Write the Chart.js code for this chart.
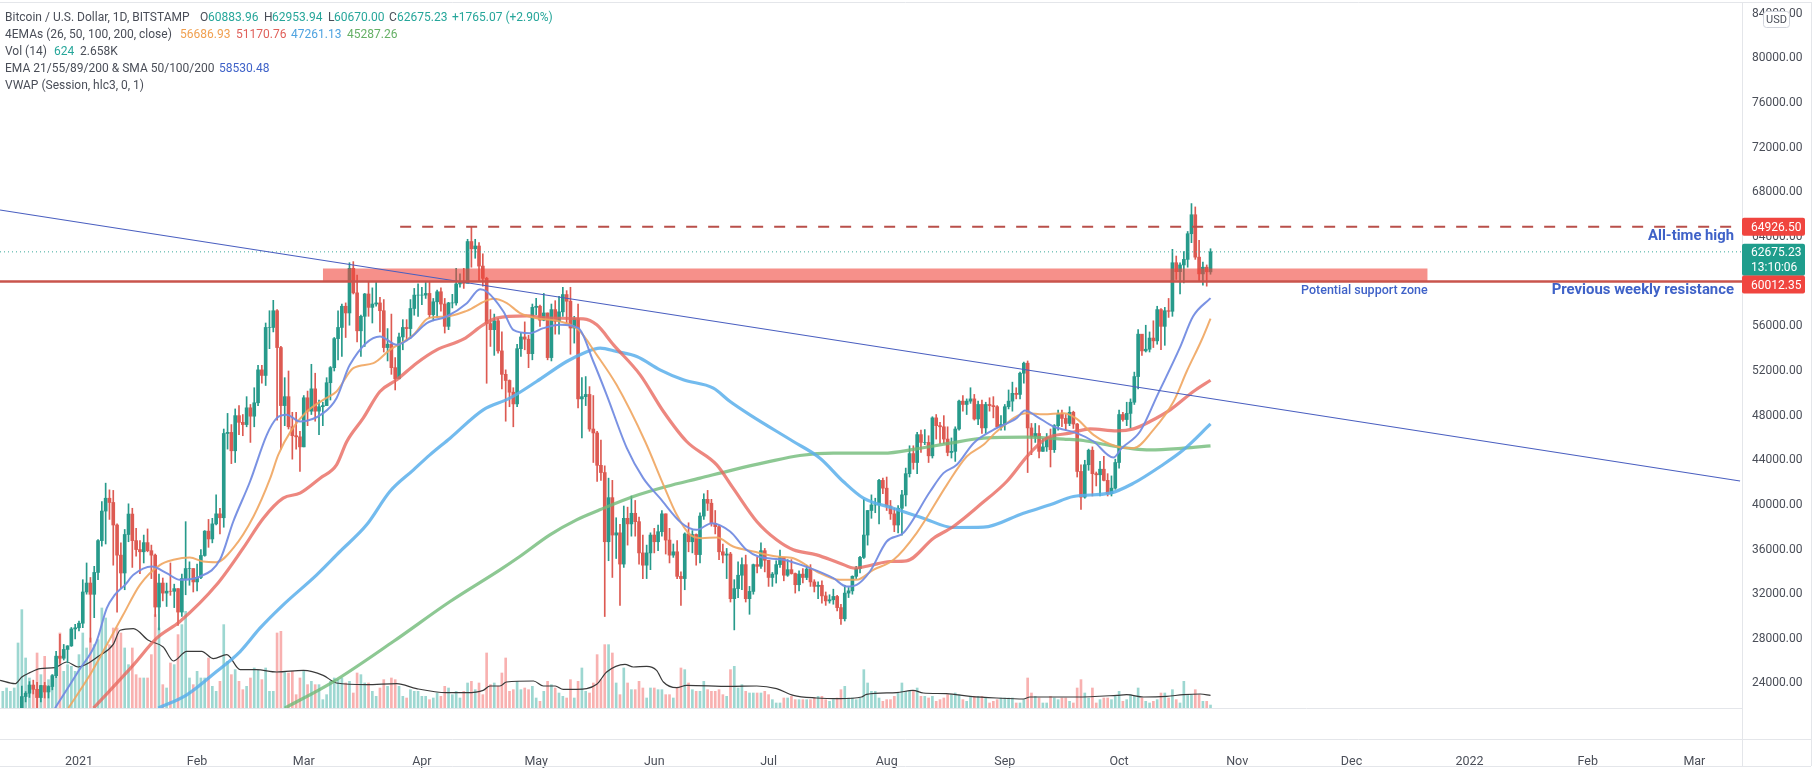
<!DOCTYPE html>
<html><head><meta charset="utf-8">
<style>html,body{margin:0;padding:0;background:#fff;overflow:hidden}canvas{display:block}</style>
<script src="https://cdn.jsdelivr.net/npm/chart.js@4"></script>
</head><body><canvas id="c" width="1816" height="771"></canvas>
<script>
// day index: 0 = 1 Jan 2021; first candle is 12 Dec 2020 (-20)
const firstDay = -20;
const firstOpen = 18700;
const closes = [
18800,19170,19270,19440,21380,22830,23130,23860,23480,22740,23820,23240,23730,24700,26450,26260,27050,27370,28890,28990,
29400,32200,33000,31990,33950,36800,39450,40600,40220,38200,35500,33900,37350,39180,36800,36000,35800,36620,35900,35500,30850,33000,32100,32270,32260,32500,30400,33400,34300,34300,33100,
33500,35470,37650,36950,38300,39200,38850,46400,46500,44850,48000,47400,47200,48700,47950,49150,52100,51600,55900,55900,57400,54100,48900,49700,47000,46200,46100,45200,
49600,48400,50400,48400,48800,48900,50950,52300,54900,55900,57800,57200,61200,59000,55600,56900,58900,57700,58000,58100,57400,54100,54400,52300,51300,55050,55900,55800,57600,58800,58800,
58800,58950,57050,58200,59100,58000,56000,58100,58100,59800,60000,59850,63600,62950,63200,61400,60300,56250,55700,56500,53800,51700,51150,50100,49050,54000,55050,54850,53550,57700,
57800,56550,57200,53200,57500,56450,57300,58850,58250,55850,56700,49500,49700,49900,46800,46450,43550,42900,36700,40650,37300,37500,34700,38800,38300,39250,38500,35700,34600,35700,37300,
36700,37600,39200,36850,35500,35800,33600,33400,37400,36700,37350,35550,39000,40500,40150,38350,38050,35800,35500,35600,31600,32500,33700,34650,31600,32250,34650,34500,35900,35040,
33500,33800,34650,35300,33700,34200,33850,32850,33800,33500,34250,33100,32700,32800,31850,31400,31500,31800,30800,29800,32100,32300,33600,34300,35300,37300,39500,40000,40000,42200,41500,
39900,39200,38200,39700,40900,42800,44600,43800,46300,45600,45600,44400,47800,47100,47000,45900,44700,44800,46800,49300,49000,49300,49500,47700,49000,46900,49000,48900,48800,47000,47200,
48800,49300,50000,49900,51800,52700,46900,46100,46400,44800,45200,46050,44950,47100,48150,47750,47300,48300,47250,43000,40700,43600,44900,42800,42700,43200,42200,41000,41500,43800,
48100,47650,48200,49200,51500,55300,53800,53950,54950,54700,57500,56000,57400,57350,61700,60900,61500,62000,64300,66000,62200,60700,61300,60884,62675.23];
const highs = [
18950,19400,19350,19550,21560,23770,23280,24170,24300,24100,23840,24100,23800,24790,26880,28400,27500,27390,29020,29300,
29600,33300,34800,33500,34500,36900,40300,41950,41350,41300,38300,36600,37800,40100,39700,37900,36800,37300,37850,36400,35600,33800,33450,33000,34800,32900,32500,33800,38500,34900,34300,
34700,36000,37700,38700,38800,40900,39700,46800,48200,47200,48600,48900,48100,49700,49000,50500,52500,52500,56300,57400,58330,57500,54200,51400,52000,48300,48300,46600,
49800,50200,52600,51800,49400,49200,51400,52400,55000,57400,58000,58100,61700,61800,60600,57000,58950,60000,59450,60000,58600,58400,55800,57100,53200,55400,56600,56600,58400,59400,59800,
59500,60000,60000,58500,59250,59450,58500,58150,58870,61200,60700,61200,63800,64895,63800,63500,62500,60400,57500,57100,56700,55500,52100,51200,50500,54400,55400,56400,55200,58000,
58500,57900,58950,57200,58000,58300,58700,59500,59200,59500,56900,58000,51400,51500,50600,49800,46600,45800,43500,42400,42200,38850,38250,39900,39800,40800,40400,38900,37300,36400,37500,
37900,38200,39500,39200,37900,36500,36800,34000,37500,38400,37700,37400,39300,41000,41300,40500,39500,38200,36500,36100,35750,33300,34900,35250,35500,32700,34700,35300,36600,36100,
35000,33950,35000,35950,35300,35100,35100,33900,34100,34300,34600,34650,33300,33100,33200,32200,31950,32450,31900,31100,32800,32600,33650,34500,35400,40500,39500,40900,40600,42300,42400,
42500,40400,39700,39950,41300,43300,45300,45300,46500,46700,46750,46200,47900,48100,47400,48000,47000,46000,47000,49400,49800,49500,50500,49900,49300,49400,49200,49600,49700,48900,48000,
49000,50300,51000,50500,51900,52800,52900,47300,47300,47100,45950,46400,46800,47200,48500,48500,48100,48800,48400,47300,43600,44000,45000,45200,42950,43900,44350,42800,42600,44100,
48500,48300,49200,49500,51900,55700,55200,56100,55500,56500,57800,57600,57700,58500,62900,62300,61700,62700,64500,67000,66700,63700,61750,61500,62953.94];
const lows = [
18000,18730,19000,19050,19280,21230,22350,22750,23060,21800,22350,22700,22700,23430,24520,25800,26100,25850,27320,28000,
28700,29000,32000,27700,29900,33300,36300,36500,38700,34600,30400,32500,32400,36700,34400,35400,33850,34800,35800,33400,30000,28800,31400,30900,31900,30800,29200,30000,31950,32800,32200,
32300,33400,35400,36200,36600,38200,37400,38000,45000,43700,43800,46300,46200,47000,45600,47000,48900,50900,50700,54000,55500,47600,45000,47100,46800,44100,45000,43000,
45200,47100,48100,47500,46300,47100,48900,49400,52000,53000,53300,55000,56100,58900,54600,53300,54200,56900,56300,57800,55500,53700,52900,51700,50300,51400,53900,54700,54900,57000,56900,
57950,58500,56800,56500,56800,57350,55400,55700,57650,57900,59500,59400,59900,61300,62100,60000,59600,50900,54200,53400,53600,50400,47500,48800,47000,48800,53300,53900,52300,53000,
57050,56000,56500,53000,52900,55300,55300,56900,56300,53500,54500,48700,46000,48900,46600,43800,42100,42200,30000,35000,33500,35200,31000,34400,36400,37200,37200,34700,33400,33400,34200,
35700,35900,37200,35600,34800,35300,33400,31000,32400,35800,35700,34600,34800,38700,39500,38100,37400,35100,34800,33400,31300,28800,31700,32400,31300,30200,32000,33900,34300,34000,
32700,32700,33000,34400,33200,33600,33800,32100,32300,33000,33300,32700,32200,31600,31200,31000,31200,31100,30500,29300,29600,31700,32000,33400,33900,35200,36400,38800,39300,38300,41000,
39500,38700,37600,37500,37300,39900,42500,43200,42800,44700,45400,43800,44200,45900,45500,45500,44400,44200,43900,46700,48400,48100,49100,47600,47200,46400,46400,48400,47800,46900,46700,
46700,48600,48400,49500,49500,50900,42900,44500,45600,44200,44800,44800,43400,44700,46700,47000,46700,47100,46850,42500,39600,40600,43100,40800,41700,40800,42150,40800,40800,41400,
43300,47500,47100,46900,49000,50400,53400,53700,53700,54100,54400,53900,54300,56800,56900,60200,58900,59900,61300,63500,62000,60000,59700,59600,60670];
const volumes = [
3500,4200,3500,4200,13650,20650,10500,6300,4550,11550,7000,10850,5950,7000,10500,15750,7700,9100,8750,7700,
11200,15750,12600,14700,13300,14350,21000,18900,13300,16800,16800,15750,12600,9100,12600,7000,6300,6300,6300,11200,
19600,16800,4900,4200,9450,9100,15400,17500,20300,6300,4900,7700,6300,6300,10500,4550,3500,5600,17500,9800,
7000,8050,5600,3850,4550,6300,8400,8050,5950,8400,3500,3500,15750,16100,7700,7350,7700,2800,6300,7700,
4900,5600,4900,4900,1750,2800,5600,6300,5950,6300,5250,5600,3150,7350,7000,5250,5250,3500,2450,4200,
5950,4550,6300,5950,4550,2450,2100,3850,3500,3500,2450,2450,1750,2100,3150,2450,4550,4200,2800,3500,
2100,3500,5250,5600,3850,5250,2800,11550,4900,5250,4550,7350,10500,3500,3850,5600,3850,4200,3850,4550,
2100,1400,3500,5600,4900,4200,3150,2450,2100,5950,2100,5600,8400,3500,3150,5250,11200,5950,13300,13300,
11550,5250,2800,8400,5250,3850,3850,5600,4200,2100,4200,4200,3850,3850,2800,2800,2100,4200,8400,8050,
5250,3850,3500,3500,5600,3850,3500,3500,3850,2800,2450,8050,8750,4200,4900,3500,3150,3150,3150,3150,
3500,2800,1750,1050,1050,2100,2100,2450,1750,1750,1750,1750,1750,2100,2450,2450,1750,1400,1750,2100,
3850,4550,2100,2100,1750,2100,8050,5250,3500,3500,2100,1400,1750,1750,2450,3150,5250,3500,3500,3500,
4200,2450,2450,2100,2450,1400,1750,2100,2800,2800,3150,2800,1750,1400,2450,2450,2450,2450,2100,
1050,1400,1750,2100,2100,2100,2100,1050,1050,1750,6300,3150,2450,2100,1050,1050,2450,2100,1750,2100,
2100,1400,1050,4200,5950,3150,2100,4200,1050,1750,2100,2100,1750,2450,3500,1400,1750,2800,2450,4200,
2100,1400,1050,1400,1750,3150,3150,2100,3850,1750,1050,5600,2800,2800,3850,2800,1400,1400,624];
// [day, value] pairs
const volumeMA = [[-20.7,5810],[-16.8,5110],[-15,6510],[-12.9,7420],[-10.2,8260],[-6.3,8470],[-3.2,9660],[-0.2,8610],[5.5,11060],[9,13370],[10.8,16310],[14.3,16660],[18.2,14210],[22.1,12810],[24.8,9870],[28.3,11900],[32.2,11900],[35.3,10360],[38.8,11200],[42.3,8050],[46.6,8050],[51.9,7560],[58.9,7910],[64.1,6860],[67.6,5250],[75.5,4900],[83.4,5110],[88.6,4060],[96.5,3220],[101.7,3220],[106.1,3710],[107.9,4620],[110.5,4620],[112.2,5460],[119.3,5670],[121.9,4620],[125,4620],[127.1,3920],[130.6,3920],[135.9,4970],[138.5,7560],[143.3,9170],[145.5,8610],[149,8750],[151.6,7910],[153.4,5460],[156.9,4270],[159.5,4760],[170.9,4550],[177.9,4620],[183.1,4060],[187.5,2660],[193.6,2100],[199.7,1960],[205.4,2310],[206.7,2870],[214.6,3220],[218.9,3710],[221.6,3150],[227.7,3010],[233.9,2450],[240.9,2100],[247.9,1890],[249.6,2310],[261.9,2310],[272.4,2660],[275,2800],[279.4,2310],[285.5,2450],[289.9,2800],[294.3,2940],[297,2658]];
const ema21 = [[-6.3,21787],[-0.2,25073],[4.6,27761],[7.3,30748],[9.4,31943],[12.1,32839],[14.3,33735],[19.1,34482],[23,33884],[26.5,33287],[31.8,33586],[37,35079],[40.5,38514],[44.9,42098],[49.3,46279],[51.9,47773],[54.5,48071],[58,47474],[64.1,48221],[67.6,49565],[71.1,52552],[79,55091],[83.4,54344],[86.9,54941],[91.3,56285],[96.5,56882],[101.8,58078],[105.3,59332],[107,59123],[111.4,57331],[114,55688],[118.4,55390],[121.9,55838],[126.3,56136],[131.1,55838],[135,52851],[138.5,49864],[143.8,45085],[148.1,42397],[152.5,40605],[158.2,38365],[162.1,37767],[166.1,38365],[170.9,37618],[175.2,35975],[178.3,35378],[184.9,35079],[191.9,34332],[198,33436],[201.5,32690],[204.1,32839],[207.6,34034],[212,36722],[216.4,37500],[223.4,41201],[226.9,42845],[230.4,43591],[234.8,45533],[240,46727],[246.1,47773],[248.3,48460],[251.4,47922],[255.8,47026],[261.9,46429],[266.3,45682],[271.5,44248],[273.7,45085],[278.5,46578],[283.1,49865],[288.9,54044],[292.4,56882],[297,58530]];
const ema26 = [[-2.8,21787],[2.9,24774],[7.3,27462],[11.6,30150],[16,32839],[21.3,34631],[24.8,35079],[29.1,35288],[32.6,34930],[36.1,34870],[40.5,36125],[45.8,38962],[50.2,42396],[52.3,44487],[55.8,46727],[59.8,48370],[64.1,49415],[67.6,50162],[72,52253],[77.3,52701],[81.6,53896],[87.8,55240],[91.7,56733],[96.5,56882],[101.8,57391],[108.8,58466],[112.3,58078],[115.8,57182],[120.1,56733],[126.3,56435],[131.1,55688],[135.9,53448],[141.1,50760],[148.6,45683],[153.4,41800],[156.9,39111],[160.4,37319],[163.4,37021],[167.4,37081],[171.7,36274],[177,35826],[183.1,35378],[187.5,35229],[193.6,34034],[199.7,33287],[204.1,33287],[208.5,34183],[213.8,35078],[219.9,37500],[227.8,41799],[233,44338],[237.4,45383],[240.9,46578],[248.8,48221],[253.1,48131],[258.4,48221],[261.9,47713],[266.3,46279],[272.4,45234],[276.8,45085],[282,46727],[287.3,49266],[290.8,52000],[294.7,54800],[297,56687]];
const ema50 = [[3.8,21787],[14.3,25670],[20.4,28060],[26.5,29553],[36.1,32839],[43.1,36125],[48.4,38813],[53.6,40605],[58,41053],[63.3,42397],[67.6,43592],[70.3,45682],[74.6,47773],[79,50162],[83.4,51208],[88.6,52701],[93.9,53896],[100.9,54852],[106.1,56136],[109.6,56733],[117.5,56943],[123.6,56733],[132.4,56674],[135.9,56136],[140.3,54344],[147.3,51656],[153.4,48370],[159.5,45682],[167.4,43592],[171.7,41501],[177.9,38514],[183.1,36871],[187.5,35975],[193.6,35527],[199.7,34780],[203.7,34332],[207.6,34571],[212.9,34930],[217.2,34990],[224.3,37020],[229.5,38065],[236.5,40007],[243.5,42098],[249.2,44487],[254,45981],[260.1,46429],[265.4,46817],[272.4,46638],[276.8,46817],[281.1,47474],[286.4,48520],[292.5,50162],[297,51171]];
const ema100 = [[20.8,21787],[28.3,22981],[36.1,25073],[42.3,26865],[47.5,28956],[53.6,31047],[62.4,33735],[68.5,35826],[75.5,38216],[81.6,41203],[87.8,43144],[92.1,44487],[97.4,45982],[106.1,48519],[113.1,49565],[120.1,51058],[128,52851],[132.4,53597],[136.8,54046],[141.1,53747],[146.4,53299],[152.5,52104],[158.6,51208],[166.5,50461],[170.9,49266],[176.1,48071],[187.5,45683],[194.5,44189],[200.6,42099],[205.9,40605],[213.7,39709],[221.6,38813],[229.5,37976],[237.4,38005],[247.9,39260],[254.9,40006],[261,40753],[270.6,41052],[276.8,41948],[283.8,43442],[289.9,44935],[297,47261]];
const ema200 = [[54,21787],[66.8,24177],[82.5,27761],[97.4,31346],[110.5,34183],[115.7,35378],[123.6,37319],[130.6,38664],[136.7,39560],[145.5,40754],[154.2,41650],[163,42397],[171.7,43144],[180.5,43831],[189.2,44428],[198,44638],[211.1,44637],[219.9,45025],[228.6,45533],[237.4,45981],[248.8,46070],[258.4,45891],[263.6,45772],[270.6,45324],[276.8,45025],[281.1,44935],[289.9,45085],[297,45287]];
const trendline = [[-20.73,66424],[436,42141]];
const athLine = [[84.3,64926.5],[433.9,64926.5]];
const resistanceLine = [[-20.73,60012.35],[436.5,60012.35]];
const lastPriceLine = [[-20.73,62675.23],[436.5,62675.23]];
const zoneTop = [[64,61183],[354,61183]];
const zoneBottom = 60012.35;
const priceTicks = [24000,28000,32000,36000,40000,44000,48000,52000,56000,60000,64000,68000,72000,76000,80000,84000];
const timeTicks = [[0,'2021'],[31,'Feb'],[59,'Mar'],[90,'Apr'],[120,'May'],[151,'Jun'],[181,'Jul'],[212,'Aug'],[243,'Sep'],[273,'Oct'],[304,'Nov'],[334,'Dec'],[365,'2022'],[396,'Feb'],[424,'Mar']];
const legendRows = [
 [['Bitcoin / U.S. Dollar, 1D, BITSTAMP',5,'#4a4e58'],['O',200,'#4a4e58'],['60883.96',208,'#26a69a'],['H',264,'#4a4e58'],['62953.94',272,'#26a69a'],['L',328,'#4a4e58'],['60670.00',334,'#26a69a'],['C',389,'#4a4e58'],['62675.23',397,'#26a69a'],['+1765.07 (+2.90%)',452,'#26a69a']],
 [['4EMAs (26, 50, 100, 200, close)',5,'#4a4e58'],['56686.93',180,'#f0a050'],['51170.76',236,'#e0605a'],['47261.13',291,'#4fa3e0'],['45287.26',347,'#66b066']],
 [['Vol (14)',5,'#4a4e58'],['624',54,'#26a69a'],['2.658K',80,'#4a4e58']],
 [['EMA 21/55/89/200 & SMA 50/100/200',5,'#4a4e58'],['58530.48',219,'#3f62c8']],
 [['VWAP (Session, hlc3, 0, 1)',5,'#4a4e58']]
];
const noteTexts = [
 ['All-time high',434.4,64050,'bold 14.8px Roboto'],
 ['Previous weekly resistance',434.4,59213,'bold 14.9px Roboto'],
 ['Potential support zone',354,59213,'500 12.5px Roboto']
];
const priceTags = [
 [['64926.50'],64926.5,'#f0453f',18],
 [['62675.23','13:10:06'],62675.23,'#1f9d8c',32],
 [['60012.35'],60012.35,'#f0453f',18]
];

const days = closes.map((_,i)=>firstDay+i);
const opens = [firstOpen,...closes.slice(0,-1)];
const up = closes.map((c,i)=>c>=opens[i]);
const UP='#279a8b', DOWN='#dd5a52';
const pts = a=>a.map(p=>({x:p[0],y:p[1]}));
const line=(data,color,width,order,extra={})=>({type:'line',data:pts(data),borderColor:color,borderWidth:width,pointRadius:0,order,cubicInterpolationMode:'monotone',fill:false,...extra});

const overlay={id:'overlay',afterDraw(ch){
  const c=ch.ctx,y=ch.scales.y,x=ch.scales.x;
  c.save();
  c.strokeStyle='#e4e6ea';c.lineWidth=1;
  const hl=(a,b,yy)=>{c.beginPath();c.moveTo(a,yy+.5);c.lineTo(b,yy+.5);c.stroke();};
  const vl=(xx,a,b)=>{c.beginPath();c.moveTo(xx+.5,a);c.lineTo(xx+.5,b);c.stroke();};
  hl(0,1811,2);hl(0,1742,708);hl(0,1811,739);hl(0,1811,766);vl(1742,2,766);vl(1811,2,766);
  c.textBaseline='middle';c.textAlign='left';
  legendRows.forEach((row,i)=>{row.forEach(([t,px,col])=>{c.font='12px Roboto';c.fillStyle=col;c.fillText(t,px,17.5+i*17.2);});});
  noteTexts.forEach(([t,d,v,f])=>{c.font=f;c.fillStyle='#3f62c8';c.textAlign='right';c.fillText(t,x.getPixelForValue(d),y.getPixelForValue(v));});
  c.textAlign='left';
  priceTags.forEach(([lines,v,col,h],i)=>{
    let yy=y.getPixelForValue(v);
    if(i===2) yy+=3;
    const top=lines.length>1?yy-8:yy-h/2;
    c.fillStyle=col;c.beginPath();c.roundRect(1742,top,63,h,2);c.fill();
    c.fillStyle='#fff';c.font='12px Roboto';
    lines.forEach((t,k)=>c.fillText(t,1751,yy+1+k*15));
  });
  c.fillStyle='#fff';c.strokeStyle='#d1d4dc';c.beginPath();c.roundRect(1763.5,11.5,26,16,3);c.fill();c.stroke();
  c.fillStyle='#4a4e58';c.font='11px Roboto';c.textAlign='center';c.fillText('USD',1776.5,20);
  c.restore();
}};

new Chart(document.getElementById('c'),{
  data:{datasets:[
    {type:'bar',yAxisID:'yVol',data:days.map((d,i)=>({x:d,y:volumes[i]})),backgroundColor:up.map(u=>u?'rgba(38,166,154,.45)':'rgba(239,83,80,.45)'),barThickness:2,grouped:false,order:20},
    line(volumeMA,'#3a3a3a',1.2,19,{yAxisID:'yVol'}),
    {type:'bar',data:days.map((d,i)=>({x:d,y:[lows[i],highs[i]]})),backgroundColor:up.map(u=>u?UP:DOWN),barThickness:1,grouped:false,order:18},
    {type:'bar',data:days.map((d,i)=>({x:d,y:[opens[i],closes[i]]})),backgroundColor:up.map(u=>u?UP:DOWN),barThickness:3,grouped:false,order:17},
    line(ema200,'rgba(112,186,120,.8)',3.2,12),
    line(ema100,'rgba(90,175,235,.85)',3.2,11),
    line(ema50,'rgba(232,105,95,.8)',3.2,10),
    line(ema26,'rgba(240,165,95,.9)',2,9),
    line(ema21,'rgba(115,140,225,.95)',2,8),
    line(lastPriceLine,'#3aa89a',1,7,{borderDash:[1,3]}),
    line(zoneTop,'rgba(240,70,60,0)',0,6,{fill:{value:zoneBottom},backgroundColor:'rgba(240,70,60,.6)'}),
    line(trendline,'#4a5fc0',1.2,5),
    line(resistanceLine,'#c9544c',2.5,4),
    line(athLine,'#b94f4a',2,3,{borderDash:[11,11]})
  ]},
  options:{
    responsive:false,animation:false,devicePixelRatio:1,
    layout:{padding:{top:3,right:6,left:0,bottom:0}},
    plugins:{legend:{display:false},tooltip:{enabled:false},title:{display:false}},
    scales:{
      x:{type:'linear',offset:false,min:-20.73,max:436.5,grid:{display:false,offset:false},border:{display:false},
        afterBuildTicks(s){s.ticks=timeTicks.map(t=>({value:t[0]}));},
        afterFit(s){s.height=63;s.paddingLeft=0;s.paddingRight=0;},
        ticks:{autoSkip:false,maxRotation:0,padding:38,font:{family:'Roboto',size:12.5},color:'#4a4e58',
          callback(v){const t=timeTicks.find(k=>k[0]===v);return t?t[1]:'';}}},
      y:{type:'linear',position:'right',min:21804,max:84972,grid:{display:false,drawTicks:false},border:{display:false},
        afterBuildTicks(s){s.ticks=priceTicks.map(v=>({value:v}));},
        afterFit(s){s.width=68;s.paddingTop=0;s.paddingBottom=0;},
        ticks:{padding:10,autoSkip:false,font:{family:'Roboto',size:12},color:'#4a4e58',callback:v=>v.toFixed(2)}},
      yVol:{type:'linear',display:false,min:0,max:148000}
    }
  },
  plugins:[overlay]
});
</script></body></html>
